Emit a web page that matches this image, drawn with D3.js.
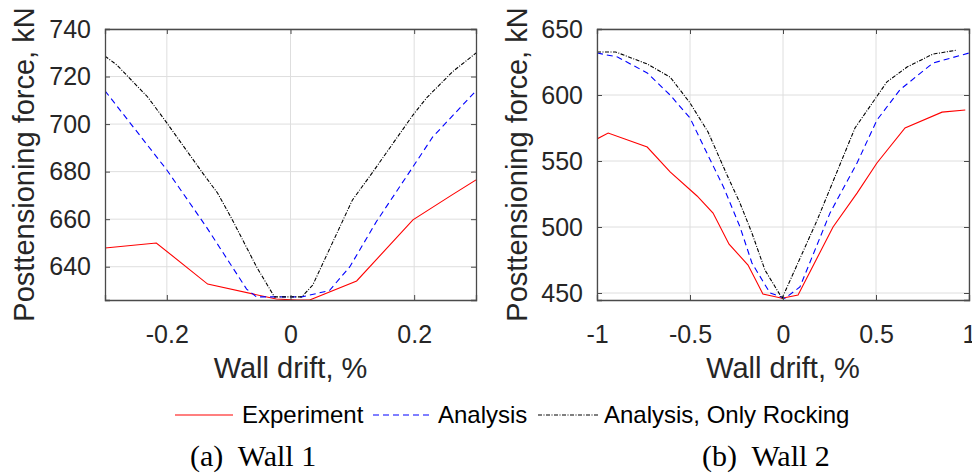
<!DOCTYPE html>
<html>
<head>
<meta charset="utf-8">
<script src="https://cdn.jsdelivr.net/npm/d3@7"></script>
<style>
  body { margin: 0; background: #fff; }
  svg { display: block; }
  text { font-family: "Liberation Sans", Arial, sans-serif; fill: #262626; }
</style>
</head>
<body>
<div id="fig"></div>
<script>

// Wall 1 data (drift %, force kN)
var w1ExpDrift  = [-0.3, -0.217, -0.134, -0.023, 0.01, 0.031, 0.107, 0.198, 0.26, 0.3];
var w1ExpForce  = [647.9, 650, 632.7, 626.4, 626, 626, 634, 659.7, 670, 676.5];
var w1AnaDrift  = [-0.3, -0.2, -0.136, -0.071, -0.055, 0.018, 0.063, 0.096, 0.139, 0.198, 0.23, 0.3];
var w1AnaForce  = [714, 680.7, 656.7, 630.6, 627.3, 627.3, 630, 640, 659, 682, 694.6, 714];
var w1RockDrift = [-0.3, -0.281, -0.231, -0.2, -0.142, -0.118, -0.094, -0.055, -0.026, 0.018, 0.036, 0.1, 0.133, 0.198, 0.22, 0.262, 0.3];
var w1RockForce = [728.6, 724.9, 711.4, 700.5, 679.4, 671, 659.7, 640, 627.3, 627.3, 632.3, 668, 679.8, 703.8, 711, 722, 729.9];

// Wall 2 data
var w2ExpDrift  = [-1, -0.94, -0.73, -0.607, -0.462, -0.376, -0.29, -0.188, -0.108, -0.005, 0.081, 0.269, 0.398, 0.505, 0.656, 0.855, 0.98];
var w2ExpForce  = [566.7, 571.2, 560.6, 541.7, 523.5, 510.6, 487, 471.2, 449.2, 446, 448.5, 500, 525.7, 548.5, 575, 587, 588.6];
var w2AnaDrift  = [-1, -0.89, -0.73, -0.607, -0.5, -0.409, -0.32, -0.231, -0.167, -0.07, 0.011, 0.091, 0.253, 0.398, 0.505, 0.629, 0.806, 1];
var w2AnaForce  = [631.8, 628.8, 616.7, 600, 582.6, 556, 530.3, 500, 472.7, 450, 446, 454.6, 510.7, 548.5, 581, 604, 624.2, 631.8];
var w2RockDrift = [-1, -0.9, -0.73, -0.607, -0.5, -0.403, -0.301, -0.231, -0.167, -0.097, -0.005, 0.183, 0.387, 0.559, 0.667, 0.806, 0.935];
var w2RockForce = [632.6, 632.6, 623.5, 613.6, 594, 572, 539.4, 518, 495.4, 467.4, 446, 505, 575, 610, 621.2, 631, 634];

// ticks
var w1XTicks = [-0.2, 0, 0.2];
var w1YTicks = [640, 660, 680, 700, 720, 740];
var w2XTicks = [-1, -0.5, 0, 0.5, 1];
var w2YTicks = [450, 500, 550, 600, 650];

var seriesNames = ['Experiment', 'Analysis', 'Analysis, Only Rocking'];
var captions = ['(a)  Wall 1', '(b)  Wall 2'];

var width = 972, height = 475;

var svg = d3.select('#fig').append('svg')
    .attr('width', width)
    .attr('height', height);

var styles = [
  {color: '#ff0000', dash: null},
  {color: '#0000ff', dash: '6,4'},
  {color: '#000000', dash: '4,1.5,1,1.5'}
];

var zip = (xs, ys) => xs.map((x, i) => [x, ys[i]]);

var drawPanel = (opt) => {
  var w = opt.right - opt.left,
      h = opt.bottom - opt.top;

  var x = d3.scaleLinear().domain(opt.xDomain).range([0, w]);
  var y = d3.scaleLinear().domain(opt.yDomain).range([h, 0]);

  var g = svg.append('g').attr('transform', 'translate(' + opt.left + ',' + opt.top + ')');

  // grid
  g.append('g').selectAll('line').data(opt.xTicks).enter().append('line')
      .attr('x1', d => x(d)).attr('x2', d => x(d))
      .attr('y1', 0).attr('y2', h)
      .style('stroke', '#dedede').style('stroke-width', 1);
  g.append('g').selectAll('line').data(opt.yTicks).enter().append('line')
      .attr('y1', d => y(d)).attr('y2', d => y(d))
      .attr('x1', 0).attr('x2', w)
      .style('stroke', '#dedede').style('stroke-width', 1);

  // lines
  var clipId = 'clip' + opt.id;
  g.append('clipPath').attr('id', clipId)
    .append('rect').attr('width', w).attr('height', h);

  var line = d3.line().x(d => x(d[0])).y(d => y(d[1]));

  opt.series.forEach((s, i) => {
    g.append('path')
      .datum(s)
      .attr('clip-path', 'url(#' + clipId + ')')
      .attr('d', line)
      .style('fill', 'none')
      .style('stroke', styles[i].color)
      .style('stroke-width', 1.1)
      .style('stroke-dasharray', styles[i].dash);
  });

  // axes, ticks pointing inward on all four sides
  var fmt = d3.format('');
  var bottom = g.append('g').attr('class', 'ax')
      .attr('transform', 'translate(0,' + h + ')')
      .call(d3.axisBottom(x).tickValues(opt.xTicks).tickSize(-5).tickPadding(25).tickFormat(fmt));
  var left = g.append('g').attr('class', 'ax')
      .call(d3.axisLeft(y).tickValues(opt.yTicks).tickSize(-5).tickPadding(14));
  g.append('g').attr('class', 'ax')
      .call(d3.axisTop(x).tickValues(opt.xTicks).tickSize(-5).tickFormat(''));
  g.append('g').attr('class', 'ax')
      .attr('transform', 'translate(' + w + ',0)')
      .call(d3.axisRight(y).tickValues(opt.yTicks).tickSize(-5).tickFormat(''));

  g.selectAll('.ax path').style('stroke', '#4a4a4a').style('stroke-width', 1.3);
  g.selectAll('.ax line').style('stroke', '#4a4a4a');
  g.selectAll('.ax text').style('font-size', '25px').style('fill', '#262626');
  bottom.selectAll('text').text(d => d < 0 ? '-' + fmt(-d) : fmt(d));

  // axis labels
  g.append('text')
    .attr('x', w / 2)
    .attr('y', h + 78)
    .attr('text-anchor', 'middle')
    .style('font-size', '29px')
    .text('Wall drift, %');

  g.append('text')
    .attr('transform', 'translate(' + opt.yLabelX + ',' + (h / 2) + ') rotate(-90)')
    .attr('text-anchor', 'middle')
    .style('font-size', '29px')
    .text('Posttensioning force, kN');

  // caption
  svg.append('text')
    .attr('x', opt.captionX)
    .attr('y', 466)
    .attr('xml:space', 'preserve')
    .style('white-space', 'pre')
    .style('font-family', '"Liberation Serif", "Times New Roman", serif')
    .style('font-size', '30px')
    .style('fill', '#000')
    .text(opt.caption);
};

drawPanel({
  id: 1, left: 105, right: 476, top: 29, bottom: 300,
  xDomain: [-0.3, 0.3], yDomain: [626, 740],
  xTicks: w1XTicks, yTicks: w1YTicks,
  yLabelX: -71, captionX: 190, caption: captions[0],
  series: [zip(w1ExpDrift, w1ExpForce), zip(w1AnaDrift, w1AnaForce), zip(w1RockDrift, w1RockForce)]
});

drawPanel({
  id: 2, left: 597, right: 969, top: 29, bottom: 300,
  xDomain: [-1, 1], yDomain: [444.7, 650],
  xTicks: w2XTicks, yTicks: w2YTicks,
  yLabelX: -70, captionX: 702, caption: captions[1],
  series: [zip(w2ExpDrift, w2ExpForce), zip(w2AnaDrift, w2AnaForce), zip(w2RockDrift, w2RockForce)]
});

// legend
var legendPos = [{x1: 175, x2: 233, tx: 242}, {x1: 373, x2: 430, tx: 438}, {x1: 538, x2: 598, tx: 604}];
var legend = svg.append('g');
seriesNames.forEach((name, i) => {
  legend.append('line')
    .attr('x1', legendPos[i].x1).attr('x2', legendPos[i].x2)
    .attr('y1', 415).attr('y2', 415)
    .style('stroke', styles[i].color)
    .style('stroke-width', 1.1)
    .style('stroke-dasharray', styles[i].dash);
  legend.append('text')
    .attr('x', legendPos[i].tx)
    .attr('y', 423)
    .style('font-size', '24px')
    .style('fill', '#000')
    .text(name);
});

</script>
</body>
</html>
